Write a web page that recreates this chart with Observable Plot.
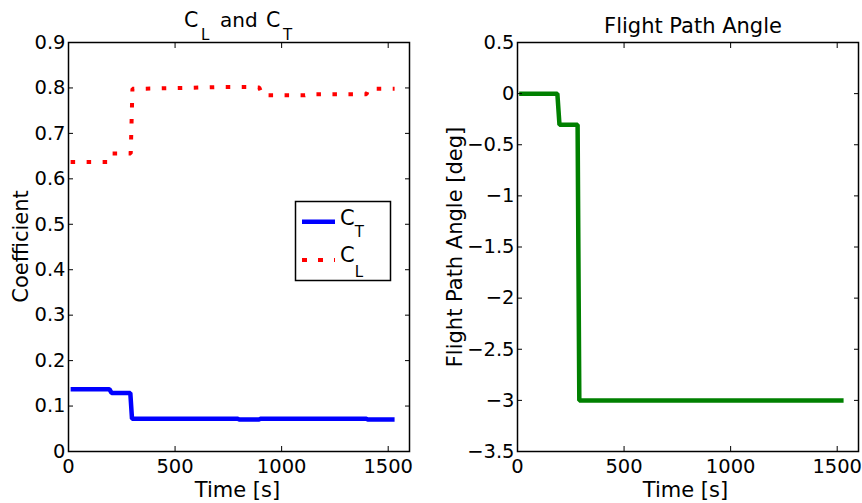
<!DOCTYPE html>
<html><head><meta charset="utf-8">
<script src="https://cdn.jsdelivr.net/npm/d3@7"></script>
<script src="https://cdn.jsdelivr.net/npm/@observablehq/plot@0.6"></script>
<style>
html,body{margin:0;padding:0;background:#fff;}
#wrap{display:flex;width:862px;height:503px;}
svg text{font-family:"DejaVu Sans";white-space:pre;}
</style></head><body><div id="wrap"></div>
<script>
// ---- data ----
const ctTime  = [10, 192, 202, 290, 298, 795, 800, 895, 900, 1398, 1403, 1530];
const ctValue = [0.137, 0.137, 0.129, 0.129, 0.072, 0.072, 0.0705, 0.0705, 0.072, 0.072, 0.0705, 0.0705];

const clTime  = [10, 185, 200, 292, 300, 550, 700, 860, 895, 910, 1110, 1125, 1398, 1408, 1530];
const clValue = [0.637, 0.637, 0.656, 0.656, 0.798, 0.800, 0.802, 0.802, 0.801, 0.784, 0.784, 0.786, 0.786, 0.798, 0.798];

const gammaTime  = [8, 187, 197, 282, 290, 1530];
const gammaValue = [0, 0, -0.305, -0.305, -3, -3];

const xTicks = [0, 500, 1000, 1500];
const xTickLabels = ["0", "500", "1000", "1500"];
const yTicksLeft = [0, 0.1, 0.2, 0.3, 0.4, 0.5, 0.6, 0.7, 0.8, 0.9];
const yTickLabelsLeft = ["0", "0.1", "0.2", "0.3", "0.4", "0.5", "0.6", "0.7", "0.8", "0.9"];
const yTicksRight = [-3.5, -3, -2.5, -2, -1.5, -1, -0.5, 0, 0.5];
const yTickLabelsRight = ["\u22123.5", "\u22123", "\u22122.5", "\u22122", "\u22121.5", "\u22121", "\u22120.5", "0", "0.5"];

const ctData = ctTime.map((t, i) => ({t, v: ctValue[i]}));
const clData = clTime.map((t, i) => ({t, v: clValue[i]}));
const gammaData = gammaTime.map((t, i) => ({t, v: gammaValue[i]}));

function panel({width, marginLeft, marginRight, yDomain, yTicks, yLabels, lines}) {
  return Plot.plot({
    width, height: 503, marginTop: 42, marginBottom: 52, marginLeft, marginRight,
    style: {fontFamily: "DejaVu Sans", fontSize: "19.5px", background: "white", color: "black", overflow: "visible"},
    x: {domain: [0, 1600], label: null},
    y: {domain: yDomain, label: null},
    marks: [
      ...lines,
      Plot.frame({stroke: "black", strokeWidth: 1.5}),
      Plot.axisX({ticks: xTicks, anchor: "bottom", tickSize: -5, tickPadding: 13, tickFormat: d => xTickLabels[xTicks.indexOf(d)], label: null}),
      Plot.axisX({ticks: xTicks, anchor: "top", tickSize: -5, tickFormat: () => "", label: null}),
      Plot.axisY({ticks: yTicks, anchor: "left", tickSize: -5, tickPadding: 8, tickFormat: d => yLabels[yTicks.indexOf(d)], label: null}),
      Plot.axisY({ticks: yTicks, anchor: "right", tickSize: -5, tickFormat: () => "", label: null})
    ]
  });
}

const left = panel({
  width: 431, marginLeft: 68, marginRight: 22, yDomain: [0, 0.9],
  yTicks: yTicksLeft, yLabels: yTickLabelsLeft,
  lines: [
    Plot.line(ctData, {x: "t", y: "v", stroke: "#0000ff", strokeWidth: 4.5, strokeLinecap: "butt", strokeLinejoin: "miter"}),
    Plot.line(clData, {x: "t", y: "v", stroke: "#ff0000", strokeWidth: 4, strokeDasharray: "4.5 11.5", strokeLinecap: "butt", strokeLinejoin: "miter"})
  ]
});
const right = panel({
  width: 431, marginLeft: 86, marginRight: 4, yDomain: [-3.5, 0.5],
  yTicks: yTicksRight, yLabels: yTickLabelsRight,
  lines: [
    Plot.line(gammaData, {x: "t", y: "v", stroke: "#008000", strokeWidth: 4.5, strokeLinecap: "butt", strokeLinejoin: "miter"})
  ]
});

document.getElementById("wrap").append(left, right);

// ---- titles, axis labels, legend ----
const L = d3.select(left), R = d3.select(right);

const tg = L.append("g").attr("fill", "black").attr("text-anchor", "start");
tg.append("text").attr("x", 184).attr("y", 27).attr("font-size", 20.5).text("C");
tg.append("text").attr("x", 201).attr("y", 40).attr("font-size", 15).text("L");
tg.append("text").attr("x", 220).attr("y", 27).attr("font-size", 20).text("and");
tg.append("text").attr("x", 266).attr("y", 27).attr("font-size", 20.5).text("C");
tg.append("text").attr("x", 283).attr("y", 40).attr("font-size", 15).text("T");

R.append("text").attr("x", 262).attr("y", 33).attr("text-anchor", "middle").attr("font-size", 21).attr("fill", "black").text("Flight Path Angle");

L.append("text").attr("x", 237.5).attr("y", 496.5).attr("text-anchor", "middle").attr("font-size", 21).attr("fill", "black").text("Time [s]");
R.append("text").attr("x", 254.5).attr("y", 496.5).attr("text-anchor", "middle").attr("font-size", 21).attr("fill", "black").text("Time [s]");

L.append("text").attr("transform", "translate(28,246.5) rotate(-90)").attr("text-anchor", "middle").attr("font-size", 21).attr("fill", "black").text("Coefficient");
R.append("text").attr("transform", "translate(31,247) rotate(-90)").attr("text-anchor", "middle").attr("font-size", 21).attr("fill", "black").text("Flight Path Angle [deg]");

const lg = L.append("g").attr("text-anchor", "start");
lg.append("rect").attr("x", 295.5).attr("y", 201.5).attr("width", 95).attr("height", 79).attr("fill", "white").attr("stroke", "black").attr("stroke-width", 1.5);
lg.append("line").attr("x1", 302).attr("x2", 335).attr("y1", 221.7).attr("y2", 221.7).attr("stroke", "#0000ff").attr("stroke-width", 4.5);
lg.append("line").attr("x1", 302).attr("x2", 335).attr("y1", 260).attr("y2", 260).attr("stroke", "#ff0000").attr("stroke-width", 4).attr("stroke-dasharray", "5 11");
const e1 = lg.append("text").attr("x", 340).attr("y", 225).attr("font-size", 21).attr("fill", "black");
e1.append("tspan").text("C");
e1.append("tspan").attr("font-size", 15).attr("dy", 12).text("T");
const e2 = lg.append("text").attr("x", 340).attr("y", 261.7).attr("font-size", 21).attr("fill", "black");
e2.append("tspan").text("C");
e2.append("tspan").attr("font-size", 15).attr("dy", 15).text("L");
</script>
</body></html>
